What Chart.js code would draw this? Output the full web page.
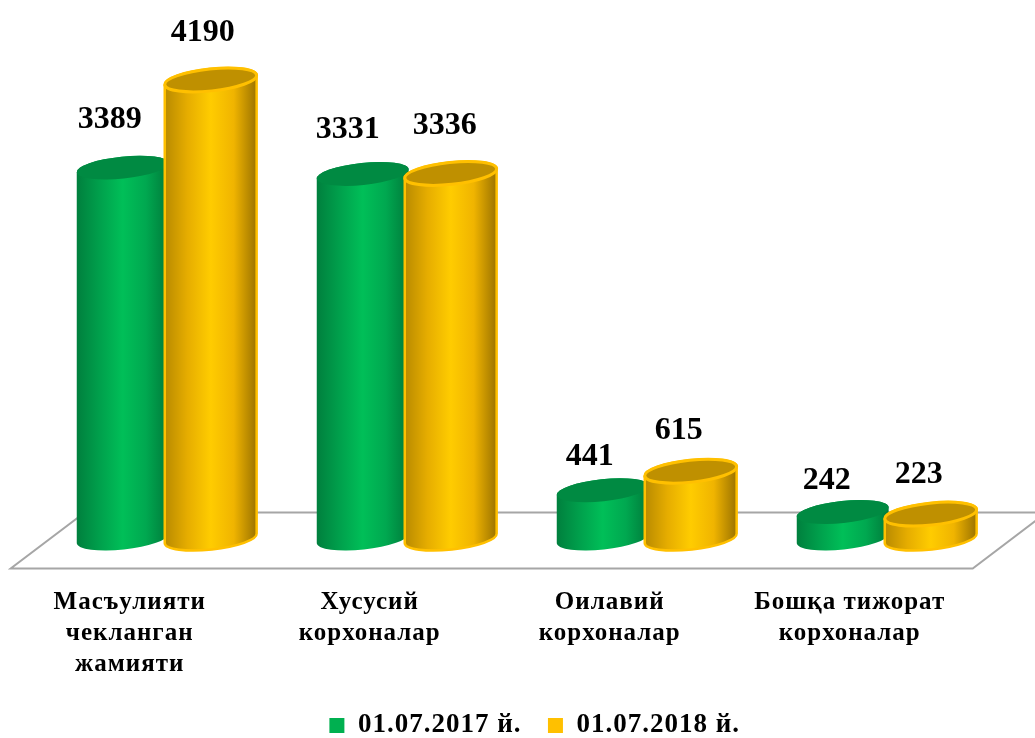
<!DOCTYPE html>
<html>
<head>
<meta charset="utf-8">
<style>
  html, body { margin: 0; padding: 0; background: #fff; }
  canvas { display: block; }
</style>
<script src="https://cdn.jsdelivr.net/npm/chart.js@4/dist/chart.umd.js"></script>
</head>
<body>
<canvas id="chart" width="1035" height="738"></canvas>
<script>
const categories = [
  ["Масъулияти", "чекланган", "жамияти"],
  ["Хусусий", "корхоналар"],
  ["Оилавий", "корхоналар"],
  ["Бошқа тижорат", "корхоналар"]
];
const seriesNames = ["01.07.2017 й.", "01.07.2018 й."];
const values2017 = [3389, 3331, 441, 242];
const values2018 = [4190, 3336, 615, 223];

// label nudges from the top of each cylinder [dx, dy]
const nudge2017 = [[-13, -48], [-15, -44], [-13, -34], [-16, -31]];
const nudge2018 = [[-8, -47], [-6, -48], [-12, -40], [-12, -39]];

const looks = [
  { edge: null, stops: ["#007f3d", "#00a04c", "#00bf58", "#00a850", "#007a3a"], top: "#008a42" },
  { edge: "#ffc000", stops: ["#b88a00", "#e6ad00", "#ffcc00", "#f0b400", "#9a7200"], top: "#bf9000" }
];
const nudges = [nudge2017, nudge2018];
const FONT = "'Liberation Serif', serif";
const TILT = -6 * Math.PI / 180;

function drawCylinder(ctx, bar, look) {
  const rx = bar.width * 0.525;
  const ry = 11;
  const grad = ctx.createLinearGradient(bar.x - rx, 0, bar.x + rx, 0);
  look.stops.forEach((c, i) => grad.addColorStop(i / (look.stops.length - 1), c));

  ctx.beginPath();
  ctx.ellipse(bar.x, bar.base, rx, ry, TILT, 0, Math.PI, false);
  ctx.ellipse(bar.x, bar.y, rx, ry, TILT, Math.PI, Math.PI * 2, false);
  ctx.closePath();
  ctx.fillStyle = grad;
  ctx.fill();
  if (look.edge) {
    ctx.strokeStyle = look.edge;
    ctx.lineWidth = 2.5;
    ctx.stroke();
  }

  ctx.beginPath();
  ctx.ellipse(bar.x, bar.y, rx, ry, TILT, 0, Math.PI * 2);
  ctx.fillStyle = look.top;
  ctx.fill();
  if (look.edge) {
    ctx.strokeStyle = look.edge;
    ctx.lineWidth = 3;
    ctx.stroke();
  }
}

const cylinders = {
  id: "cylinders",
  beforeLayout(chart) {
    chart.ctx.letterSpacing = "1px";
  },
  afterLayout(chart) {
    // legend sits low and right of centre in the original
    chart.legend.left += 8;
    chart.legend.right += 8;
    chart.legend.top += 11;
    chart.legend.bottom += 11;
    // ticks are clipped to the scale box, third line needs room
    chart.scales.x.bottom += 15;
  },
  beforeDraw(chart) {
    chart.ctx.letterSpacing = "1px";
  },
  beforeDatasetsDraw(chart) {
    const ctx = chart.ctx;
    const area = chart.chartArea;

    // floor
    ctx.save();
    ctx.beginPath();
    ctx.moveTo(area.left - 36, area.bottom + 30);
    ctx.lineTo(area.right - 34, area.bottom + 30);
    ctx.lineTo(area.right + 40, area.bottom - 26);
    ctx.lineTo(area.left + 38, area.bottom - 26);
    ctx.closePath();
    ctx.strokeStyle = "#a6a6a6";
    ctx.lineWidth = 2;
    ctx.stroke();
    ctx.restore();

    chart.data.datasets.forEach((ds, i) => {
      chart.getDatasetMeta(i).data.forEach(bar => drawCylinder(ctx, bar, looks[i]));
    });

    ctx.save();
    ctx.letterSpacing = "0px";
    ctx.fillStyle = "#000";
    ctx.font = "bold 32px " + FONT;
    ctx.textAlign = "center";
    ctx.textBaseline = "middle";
    chart.data.datasets.forEach((ds, i) => {
      chart.getDatasetMeta(i).data.forEach((bar, j) => {
        ctx.fillText(ds.data[j], bar.x + nudges[i][j][0], bar.y + nudges[i][j][1]);
      });
    });
    ctx.restore();
    return false;
  }
};

new Chart(document.getElementById("chart"), {
  type: "bar",
  data: {
    labels: categories,
    datasets: [
      { label: seriesNames[0], data: values2017, backgroundColor: "#00b050", categoryPercentage: 0.7333, barPercentage: 1 },
      { label: seriesNames[1], data: values2018, backgroundColor: "#ffc000", categoryPercentage: 0.7333, barPercentage: 1 }
    ]
  },
  options: {
    responsive: false,
    animation: false,
    layout: { padding: { top: 46, left: 46.7, right: 28.3, bottom: 0 } },
    plugins: {
      tooltip: { enabled: false },
      legend: {
        position: "bottom",
        labels: {
          color: "#000",
          boxWidth: 15,
          boxHeight: 15,
          padding: 26.5,
          font: { family: FONT, size: 27, weight: "bold" }
        }
      }
    },
    scales: {
      x: {
        grid: { display: false },
        border: { display: false },
        afterFit(scale) { scale.height = 136; },
        ticks: {
          color: "#000",
          padding: 40.5,
          labelOffset: -37,
          maxRotation: 0,
          autoSkip: false,
          font: { family: FONT, size: 25, weight: "bold", lineHeight: 1.24 }
        }
      },
      y: { display: false, min: 0, max: 4500 }
    }
  },
  plugins: [cylinders]
});
</script>
</body>
</html>
